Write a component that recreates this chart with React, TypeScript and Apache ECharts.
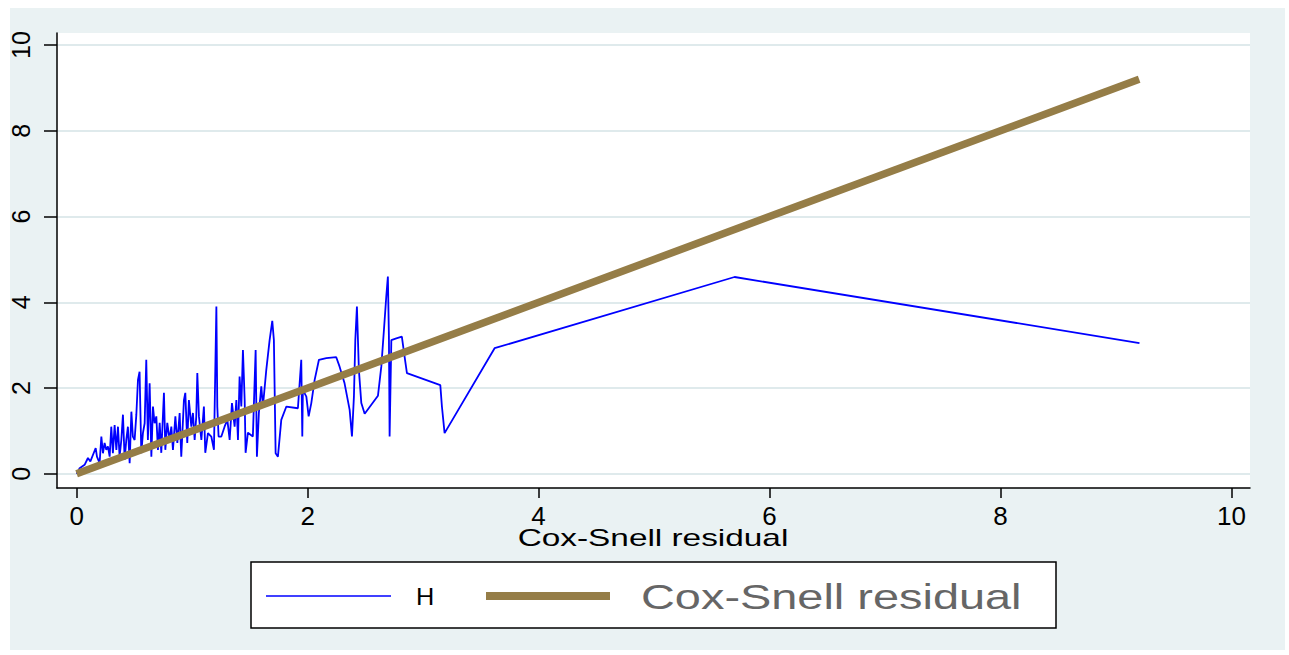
import React, { useEffect, useRef } from "react";
import * as echarts from "echarts";

const xTicks = [0, 2, 4, 6, 8, 10];
const yTicks = [0, 2, 4, 6, 8, 10];
const xTitle = "Cox-Snell residual";
const seriesNames = ["H", "Cox-Snell residual"];

// H (cumulative hazard) against Cox-Snell residual
const hX = [
  0, 0.026, 0.069, 0.098, 0.119, 0.141, 0.165, 0.176, 0.199, 0.214, 0.228,
  0.242, 0.257, 0.271, 0.286, 0.3, 0.314, 0.329, 0.344, 0.358, 0.372,
  0.387, 0.401, 0.416, 0.43, 0.444, 0.459, 0.474, 0.487, 0.502, 0.517,
  0.531, 0.545, 0.56, 0.574, 0.589, 0.603, 0.617, 0.632, 0.647, 0.661, 0.675,
  0.69, 0.704, 0.719, 0.733, 0.756, 0.768, 0.785, 0.805, 0.82, 0.834,
  0.855, 0.872, 0.892, 0.906, 0.929, 0.941, 0.958, 0.972, 0.993, 1.007,
  1.022, 1.036, 1.045, 1.059, 1.08, 1.102, 1.114, 1.137, 1.166, 1.189,
  1.21, 1.218, 1.229, 1.253, 1.281, 1.305, 1.325, 1.345, 1.368, 1.383,
  1.397, 1.411, 1.426, 1.44, 1.455,
  1.463, 1.483, 1.526, 1.55, 1.561, 1.578, 1.599, 1.613, 1.642, 1.671,
  1.694, 1.708, 1.723, 1.743, 1.772, 1.816, 1.916, 1.945, 1.954, 1.959,
  1.989, 2.009, 2.032, 2.061, 2.098, 2.162, 2.248, 2.277, 2.32, 2.364,
  2.384, 2.401, 2.413, 2.427, 2.444, 2.465, 2.494, 2.609, 2.638, 2.661,
  2.681, 2.695, 2.704, 2.71, 2.725, 2.768, 2.816, 2.84, 2.86, 3.149,
  3.163, 3.186, 3.619, 5.697, 9.203,
];
const hY = [
  0, 0.13, 0.21, 0.37, 0.29, 0.44, 0.6, 0.4, 0.25, 0.87, 0.48,
  0.72, 0.56, 0.64, 0.4, 1.1, 0.48, 1.14, 0.56, 1.1, 0.4,
  0.79, 1.38, 0.33, 0.79, 1.1, 0.25, 1.45, 0.87, 0.79, 1.38,
  2.19, 2.38, 0.48, 0.95, 1.18, 2.66, 0.79, 2.11, 0.4, 1.57, 1.18,
  1.34, 0.56, 1.19, 0.49, 1.89, 0.56, 1.19, 0.79, 1.1, 0.56,
  1.34, 0.72, 1.42, 0.4, 1.72, 1.89, 0.72, 1.72, 1.1, 1.42,
  0.79, 1.34, 2.35, 1.34, 0.79, 1.57, 0.49, 0.95, 0.87, 0.56,
  3.9, 1.57, 0.87, 0.87, 1.1, 1.26, 0.79, 1.65, 1.1, 1.72,
  0.79, 2.27, 1.57, 2.89, 1.72,
  0.49, 0.96, 0.87, 2.89, 0.4, 1.42, 2.04, 1.57, 2.42, 3.12,
  3.57, 3.12, 0.48, 0.4, 1.26, 1.57, 1.53, 2.66, 0.87, 1.96,
  1.8, 1.34, 1.65, 2.19, 2.66, 2.7, 2.72, 2.5, 2.11, 1.49,
  0.87, 1.8, 3.12, 3.9, 2.42, 1.65, 1.4, 1.82, 2.5, 3.36,
  4.13, 4.6, 3.2, 0.87, 3.12, 3.16, 3.2, 2.73, 2.35, 2.07,
  1.57, 0.95, 2.93, 4.59, 3.05,
];

// Reference line: Cox-Snell residual against itself
const csX = [0, 9.2];
const csY = [0, 9.2];

const BLUE = "#0000ff";
const BROWN = "#957d47";

export default function App() {
  const ref = useRef<HTMLDivElement>(null);

  useEffect(() => {
    if (!ref.current) return;
    const chart = echarts.init(ref.current, null, { renderer: "svg" });
    const hData = hX.map((x, i) => [x, hY[i]]);
    const csData = csX.map((x, i) => [x, csY[i]]);
    const font = "'Liberation Sans', Arial, sans-serif";

    chart.setOption({
      animation: false,
      backgroundColor: "#ffffff",
      grid: {
        left: 57,
        top: 33,
        width: 1193,
        height: 455,
        show: true,
        backgroundColor: "#ffffff",
        borderWidth: 0,
      },
      xAxis: {
        type: "value",
        min: -0.17,
        max: 10.16,
        axisLine: { show: true, onZero: false, lineStyle: { color: "#000", width: 1.5 } },
        axisTick: { show: true, length: 10, customValues: xTicks, lineStyle: { color: "#000", width: 1.5 } },
        axisLabel: { customValues: xTicks, fontFamily: font, fontSize: 26, color: "#000", margin: 15 },
        splitLine: { show: false },
      },
      yAxis: {
        type: "value",
        min: -0.33,
        max: 10.28,
        axisLine: { show: true, onZero: false, lineStyle: { color: "#000", width: 1.5 } },
        axisTick: { show: true, length: 13, customValues: yTicks, lineStyle: { color: "#000", width: 1.5 } },
        axisLabel: { customValues: yTicks, rotate: 90, fontFamily: font, fontSize: 25, color: "#000", margin: 24 },
        splitLine: { show: true, lineStyle: { color: "#dfeaec", width: 2 } },
      },
      series: [
        {
          name: seriesNames[0],
          type: "line",
          data: hData,
          showSymbol: false,
          symbol: "none",
          lineStyle: { color: BLUE, width: 1.8 },
          itemStyle: { color: BLUE },
          z: 2,
        },
        {
          name: seriesNames[1],
          type: "line",
          data: csData,
          showSymbol: false,
          symbol: "none",
          lineStyle: { color: BROWN, width: 7.5 },
          itemStyle: { color: BROWN },
          z: 3,
        },
      ],
      graphic: [
        {
          type: "rect",
          z: -10,
          silent: true,
          shape: { x: 10, y: 8, width: 1275, height: 642 },
          style: { fill: "#eaf2f3" },
        },
        {
          type: "text",
          z: 10,
          x: 653,
          y: 538,
          scaleX: 1.39,
          style: { text: xTitle, fontFamily: font, fontSize: 24, fill: "#000", verticalAlign: "middle", align: "center" },
        },
        {
          type: "group",
          z: 10,
          children: [
            {
              type: "rect",
              shape: { x: 251, y: 562, width: 805, height: 66 },
              style: { fill: "#ffffff", stroke: "#000", lineWidth: 1.5 },
            },
            {
              type: "line",
              shape: { x1: 266, y1: 596, x2: 391, y2: 596 },
              style: { stroke: BLUE, lineWidth: 1.5 },
            },
            {
              type: "text",
              x: 416,
              y: 597,
              scaleX: 1.1,
              style: { text: seriesNames[0], fontFamily: font, fontSize: 23, fill: "#000", verticalAlign: "middle", align: "left" },
            },
            {
              type: "line",
              shape: { x1: 486, y1: 596, x2: 610, y2: 596 },
              style: { stroke: BROWN, lineWidth: 8 },
            },
            {
              type: "text",
              x: 641,
              y: 597,
              scaleX: 1.34,
              style: { text: seriesNames[1], fontFamily: font, fontSize: 35, fill: "#666666", verticalAlign: "middle", align: "left" },
            },
          ],
        },
      ],
    });

    return () => chart.dispose();
  }, []);

  return (
    <div
      ref={ref}
      style={{ position: "fixed", left: 0, top: 0, width: 1289, height: 655 }}
    />
  );
}
